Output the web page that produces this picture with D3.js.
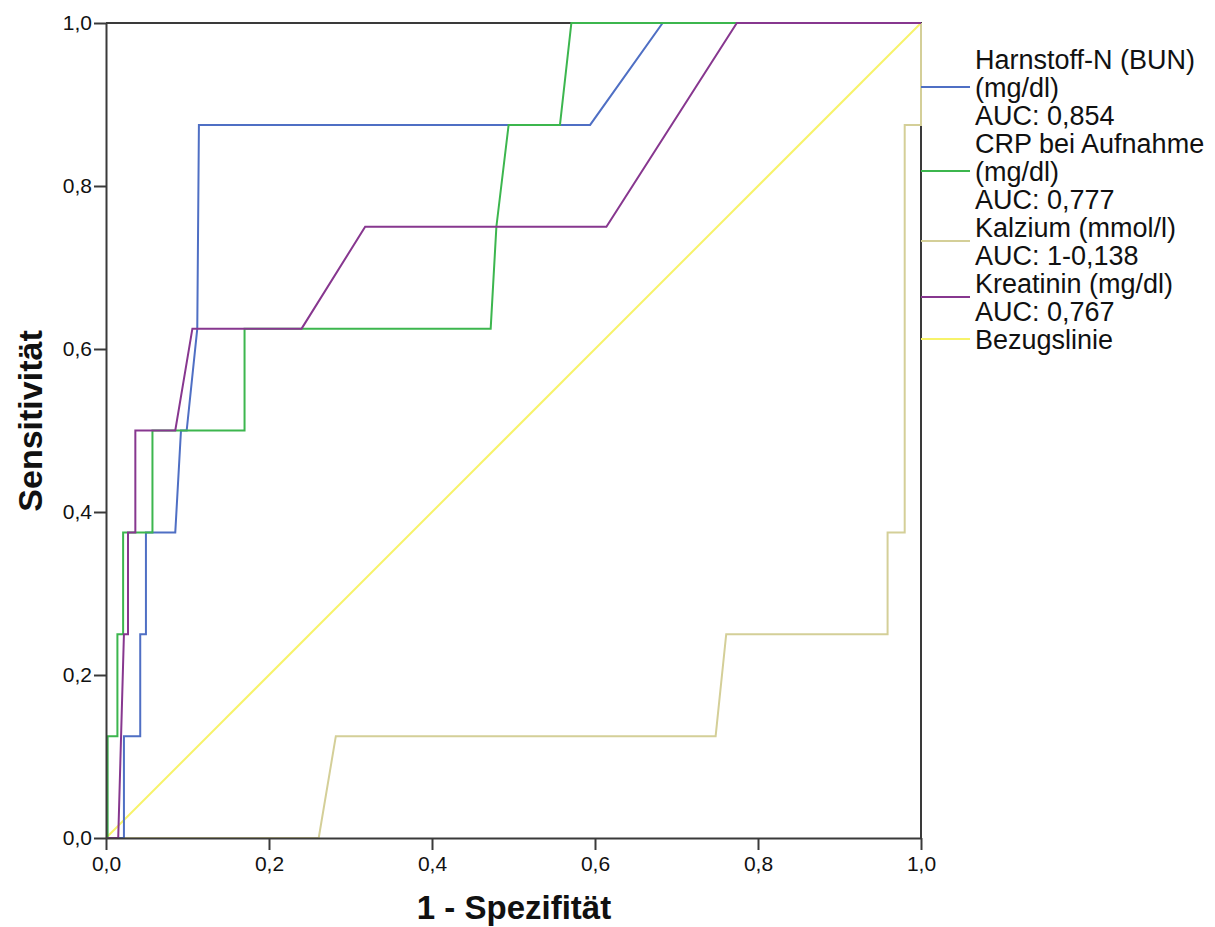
<!DOCTYPE html>
<html>
<head>
<meta charset="utf-8">
<script src="https://cdn.jsdelivr.net/npm/d3@7/dist/d3.min.js"></script>
<style>
  html, body { margin: 0; padding: 0; background: #fff; }
  svg { display: block; font-family: "Liberation Sans", Arial, sans-serif; }
</style>
</head>
<body>
<svg id="chart" width="1215" height="927"></svg>
<script>
// ROC curves: 1 - specificity (x) vs. sensitivity (y)
const bunX  = [0, 0.022, 0.022, 0.042, 0.042, 0.049, 0.049, 0.085, 0.092, 0.099, 0.112, 0.114, 0.594, 0.683, 1];
const bunY  = [0, 0, 0.125, 0.125, 0.25, 0.25, 0.375, 0.375, 0.5, 0.5, 0.625, 0.875, 0.875, 1, 1];

const crpX  = [0, 0.002, 0.002, 0.014, 0.014, 0.021, 0.021, 0.057, 0.057, 0.170, 0.170, 0.472, 0.479, 0.494, 0.557, 0.571, 1];
const crpY  = [0, 0, 0.125, 0.125, 0.25, 0.25, 0.375, 0.375, 0.5, 0.5, 0.625, 0.625, 0.75, 0.875, 0.875, 1, 1];

const kalzX = [0, 0.261, 0.282, 0.748, 0.761, 0.959, 0.959, 0.980, 0.980, 1, 1];
const kalzY = [0, 0, 0.125, 0.125, 0.25, 0.25, 0.375, 0.375, 0.875, 0.875, 1];

const kreaX = [0, 0.015, 0.022, 0.027, 0.027, 0.036, 0.036, 0.085, 0.106, 0.240, 0.318, 0.614, 0.774, 1];
const kreaY = [0, 0, 0.25, 0.25, 0.375, 0.375, 0.5, 0.5, 0.625, 0.625, 0.75, 0.75, 1, 1];

const refX  = [0, 1];
const refY  = [0, 1];

const tickValues = [0, 0.2, 0.4, 0.6, 0.8, 1.0];

const legendLines  = [
  ["Harnstoff-N (BUN)", "(mg/dl)", "AUC: 0,854"],
  ["CRP bei Aufnahme", "(mg/dl)", "AUC: 0,777"],
  ["Kalzium (mmol/l)", "AUC: 1-0,138"],
  ["Kreatinin (mg/dl)", "AUC: 0,767"],
  ["Bezugslinie"]
];
const seriesColors = ["#4f6fc4", "#3cb64e", "#d4cf98", "#87378f", "#f7f36a"];

const xTitle = "1 - Spezifität";
const yTitle = "Sensitivität";

const series = [
  { x: bunX,  y: bunY },
  { x: crpX,  y: crpY },
  { x: kalzX, y: kalzY },
  { x: kreaX, y: kreaY },
  { x: refX,  y: refY }
];

const svg = d3.select("#chart");
const plotL = 106, plotR = 921, plotT = 23, plotB = 838;

const x = d3.scaleLinear().domain([0, 1]).range([plotL, plotR]);
const y = d3.scaleLinear().domain([0, 1]).range([plotB, plotT]);
const fmt = d => d3.format(".1f")(d).replace(".", ",");

// frame (top and right edges)
svg.append("path")
  .attr("d", `M${plotL},${plotT}H${plotR}V${plotB}`)
  .attr("fill", "none").attr("stroke", "#3a3a3a").attr("stroke-width", 2);

// curves
const line = d3.line().x(d => x(d[0])).y(d => y(d[1]));
const drawOrder = [4, 2, 0, 1, 3];
drawOrder.forEach(i => {
  const s = series[i];
  const pts = s.x.map((v, k) => [v, s.y[k]]);
  svg.append("path")
    .attr("d", line(pts))
    .attr("fill", "none")
    .attr("stroke", seriesColors[i])
    .attr("stroke-width", 2)
    .attr("stroke-linejoin", "miter");
});

// axes
const yAxis = svg.append("g")
  .attr("transform", `translate(${plotL},0)`)
  .call(d3.axisLeft(y).tickValues(tickValues).tickFormat(fmt).tickSize(12).tickPadding(2).tickSizeOuter(0));
const xAxis = svg.append("g")
  .attr("transform", `translate(0,${plotB})`)
  .call(d3.axisBottom(x).tickValues(tickValues).tickFormat(fmt).tickSize(12).tickPadding(6).tickSizeOuter(0));

[xAxis, yAxis].forEach(g => {
  g.select(".domain").attr("stroke", "#3a3a3a").attr("stroke-width", 2);
  g.selectAll(".tick line").attr("stroke", "#3a3a3a").attr("stroke-width", 2);
  g.selectAll(".tick text")
    .attr("fill", "#111")
    .style("font-size", "21px")
    .style("font-family", "'Liberation Sans', Arial, sans-serif");
});

// axis titles
svg.append("text")
  .attr("x", 514).attr("y", 919)
  .attr("text-anchor", "middle")
  .style("font-size", "33px").style("font-weight", "bold")
  .attr("fill", "#111")
  .text(xTitle);

svg.append("text")
  .attr("transform", "translate(42,421) rotate(-90)")
  .attr("text-anchor", "middle")
  .style("font-size", "34px").style("font-weight", "bold")
  .attr("fill", "#111")
  .text(yTitle);

// legend
const legendX = 975, lineStep = 28;
let baseline = 69;
legendLines.forEach((lines, i) => {
  const firstBase = baseline;
  lines.forEach((t, k) => {
    svg.append("text")
      .attr("x", legendX).attr("y", firstBase + k * lineStep)
      .style("font-size", "27px")
      .attr("fill", "#111")
      .text(t);
  });
  const lastBase = firstBase + (lines.length - 1) * lineStep;
  const swY = (firstBase + lastBase) / 2 - 10;
  svg.append("line")
    .attr("x1", plotR).attr("x2", 970)
    .attr("y1", swY).attr("y2", swY)
    .attr("stroke", seriesColors[i]).attr("stroke-width", 2);
  baseline = lastBase + lineStep;
});
</script>
</body>
</html>
